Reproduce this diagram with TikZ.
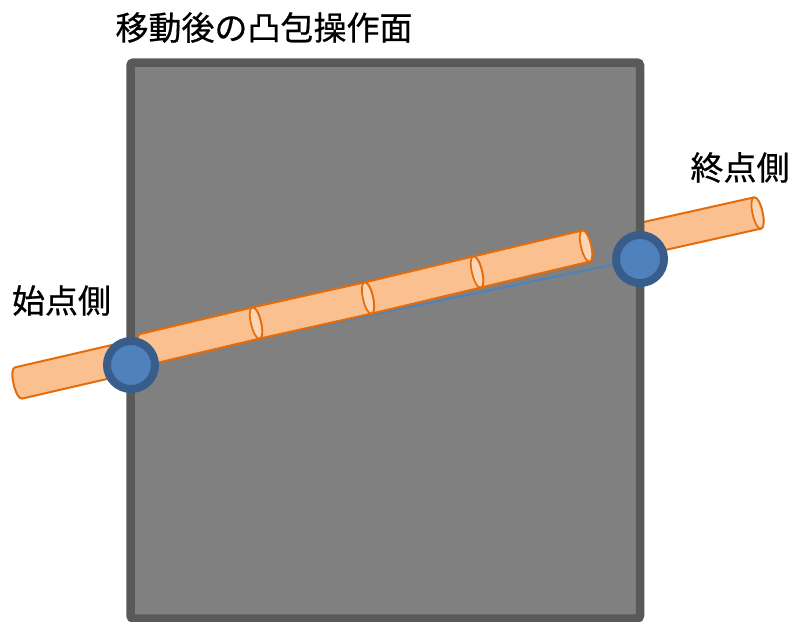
\documentclass[tikz,border=0pt]{standalone}
\usepackage{fontspec}
\newfontfamily\jpfont[FakeBold=0.6]{Noto Sans CJK JP}
\definecolor{panelgray}{HTML}{808080}
\definecolor{paneledge}{HTML}{595959}
\definecolor{tubefill}{HTML}{FAC090}
\definecolor{tubeline}{HTML}{E46C0A}
\definecolor{capfill}{HTML}{FCD5B4}
\definecolor{jointfill}{HTML}{4F81BD}
\definecolor{jointedge}{HTML}{385D8A}
% one cylinder segment from end centre (#1,#2) to end centre (#3,#4)
\newcommand\tubeseg[4]{%
  \pgfmathsetmacro\tsang{atan2(#2-#4,#3-#1)}%
  \pgfmathsetmacro\tslen{veclen(#3-#1,#4-#2)}%
  \begin{scope}[shift={(#1,#2)},rotate=\tsang]
    \path[tube] (0,-16) -- (\tslen,-16)
      .. controls (\tslen+6.7,-16) and (\tslen+6.7,16) .. (\tslen,16)
      -- (0,16)
      .. controls (-6.7,16) and (-6.7,-16) .. (0,-16) -- cycle;
    \path[tubecap] (\tslen,-16)
      .. controls (\tslen+6.7,-16) and (\tslen+6.7,16) .. (\tslen,16)
      .. controls (\tslen-6.7,16) and (\tslen-6.7,-16) .. (\tslen,-16) -- cycle;
  \end{scope}}
\begin{document}
\begin{tikzpicture}[x=1pt,y=-1pt,
  panel/.style={fill=panelgray,draw=paneledge,line width=8.5pt,rounded corners=3pt},
  tube/.style={fill=tubefill,draw=tubeline,line width=2pt,line join=round},
  tubecap/.style={fill=capfill,draw=tubeline,line width=1.7pt},
  link/.style={draw=jointfill,line width=2pt},
  joint/.style={circle,fill=jointfill,draw=jointedge,line width=8pt,minimum size=48pt,inner sep=0pt},
  label/.style={font=\jpfont\fontsize{33}{33}\selectfont,inner sep=0pt}]
\useasboundingbox (0,0) rectangle (791,621);
\clip (0,0) rectangle (791,621);
\coordinate (s) at (131,365);
\coordinate (e) at (640,259);
% end-side segment, partly hidden by the panel border
\tubeseg{641}{239}{757.5}{213}
% the operation surface
\draw[panel] (130.5,62.5) rectangle (640,618.5);
% link between the two end points
\draw[link] (s) -- (e);
% start-side segment and the inner segments
\tubeseg{18.5}{383}{131}{357}
\tubeseg{477}{272}{586}{246}
\tubeseg{368}{298}{477}{272}
\tubeseg{256}{323}{368}{298}
\tubeseg{143.6}{349.6}{256}{323}
% joints
\node[joint] (startjoint) at (s) {};
\node[joint] (endjoint) at (e) {};
% labels
\node[label] (title) at (264,27.5) {移動後の凸包操作面};
\node[label] (startlbl) at (61.5,300.5) {始点側};
\node[label] (endlbl) at (740,167.5) {終点側};
\end{tikzpicture}
\end{document}
